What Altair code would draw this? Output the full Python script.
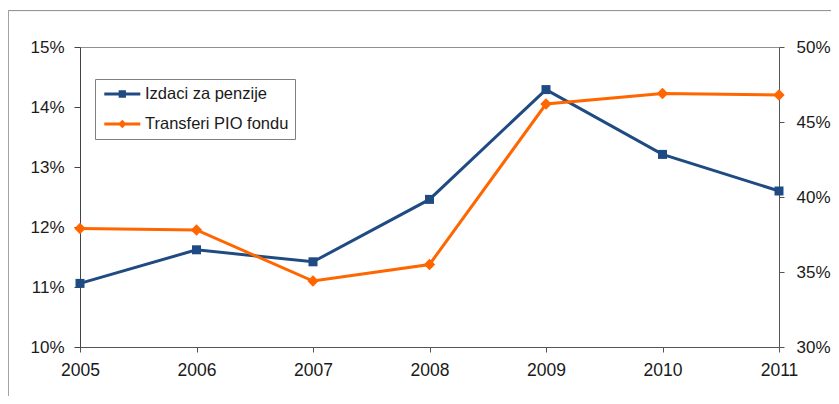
import altair as alt
import pandas as pd

years = [2005, 2006, 2007, 2008, 2009, 2010, 2011]
izdaci = [11.06, 11.62, 11.42, 12.46, 14.29, 13.21, 12.60]
transferi = [37.9, 37.8, 34.4, 35.5, 46.2, 46.9, 46.8]
series_names = ["Izdaci za penzije", "Transferi PIO fondu"]
left_ticks = [10, 11, 12, 13, 14, 15]
right_ticks = [30, 35, 40, 45, 50]

BLUE = "#1F4A82"
ORANGE = "#FF6600"
FONT = "Liberation Sans"

df = pd.DataFrame({"year": years, "izdaci": izdaci, "transferi": transferi})

x_enc = alt.X(
    "year:Q",
    scale=alt.Scale(domain=[2005, 2011], nice=False, zero=False),
    axis=alt.Axis(values=years, format="d", title=None, grid=False, labelFlush=False,
                  tickSize=5, labelPadding=9, labelFontSize=17.5,
                  domainColor="#555555", tickColor="#555555", labelColor="#1a1a1a"),
)

blue = alt.Chart(df).mark_line(
    color=BLUE, strokeWidth=3,
    point=alt.OverlayMarkDef(shape="square", size=81, filled=True, color=BLUE, opacity=1),
).encode(
    x=x_enc,
    y=alt.Y("izdaci:Q", scale=alt.Scale(domain=[10, 15], nice=False, zero=False),
            axis=alt.Axis(orient="left", values=left_ticks, labelExpr="datum.value + '%'",
                          title=None, grid=False, tickSize=6, labelPadding=10,
                          labelFontSize=17, domainColor="#444444", tickColor="#444444",
                          labelColor="#1a1a1a")),
)

orange = alt.Chart(df).mark_line(
    color=ORANGE, strokeWidth=3,
    point=alt.OverlayMarkDef(shape="diamond", size=130, filled=True, color=ORANGE, opacity=1),
).encode(
    x=x_enc,
    y=alt.Y("transferi:Q", scale=alt.Scale(domain=[30, 50], nice=False, zero=False),
            axis=alt.Axis(orient="right", values=right_ticks, labelExpr="datum.value + '%'",
                          title=None, grid=False, tickSize=5, labelPadding=12,
                          labelFontSize=17, domainColor="#555555", tickColor="#555555",
                          labelColor="#1a1a1a")),
)

legend_paths = [
    "M-0.66,-0.17H3.5V0.17H-0.66Z M1.0,-0.42H1.84V0.42H1.0Z",
    "M-0.66,-0.17H3.5V0.17H-0.66Z M1.42,-0.5L1.92,0L1.42,0.5L0.92,0Z",
]
leg = alt.Legend(
    title=None, orient="none", legendX=15, legendY=32, padding=6,
    strokeColor="#7f7f7f", fillColor="white", labelFont=FONT, labelFontSize=16.5,
    labelColor="#1a1a1a", symbolSize=300, symbolStrokeWidth=0, labelOffset=26,
    rowPadding=12,
)
legend_layer = alt.Chart(pd.DataFrame({"series": series_names})).transform_filter(
    "false"
).mark_point(filled=True, opacity=1).encode(
    color=alt.Color("series:N", scale=alt.Scale(domain=series_names, range=[BLUE, ORANGE]), legend=leg),
    shape=alt.Shape("series:N", scale=alt.Scale(domain=series_names, range=legend_paths), legend=leg),
)

frame = alt.Chart(pd.DataFrame({"a": [0]})).mark_rect(
    fillOpacity=0, stroke="#8c8c8c", strokeWidth=1
).encode(
    x=alt.value(-71.7), x2=alt.value(800), y=alt.value(-36.4), y2=alt.value(400)
)

chart = alt.layer(frame, blue, orange, legend_layer).resolve_scale(
    y="independent"
).properties(
    width=699, height=300,
    autosize=alt.AutoSizeParams(type="none"),
    padding={"left": 72, "top": 39, "right": 52, "bottom": 49},
).configure(
    font=FONT,
).configure_view(
    stroke="#8f8f8f", strokeWidth=1,
)

chart.save("out.html", embed_options={"renderer": "svg", "actions": False})
